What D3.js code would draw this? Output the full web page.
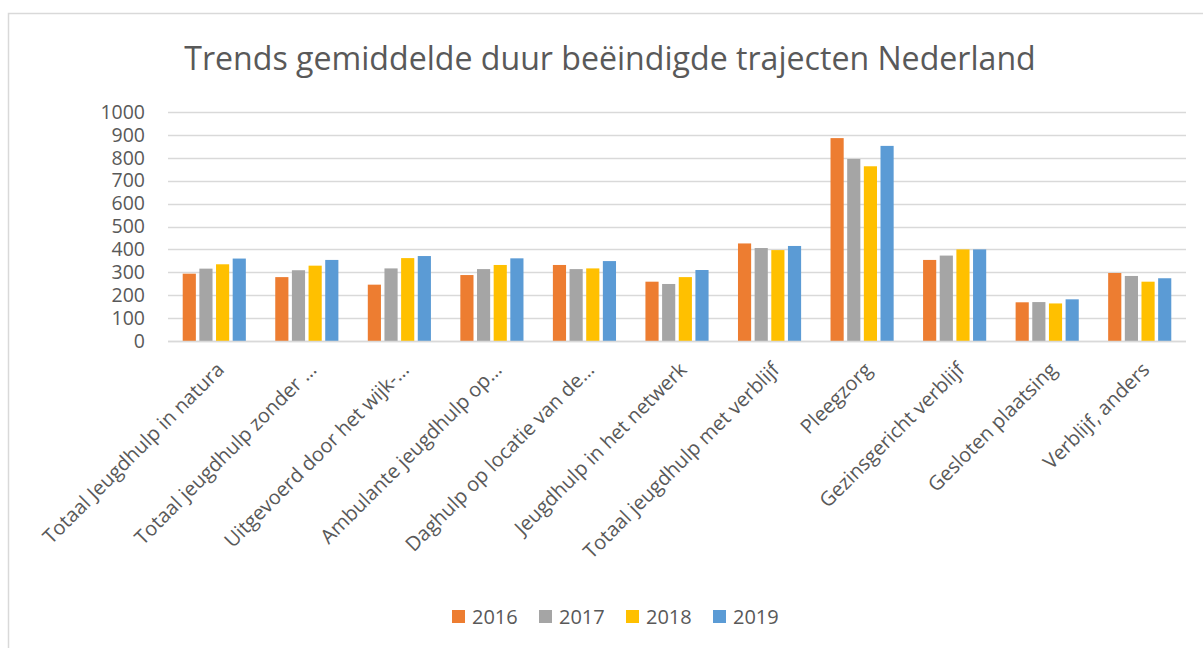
<!DOCTYPE html>
<html>
<head>
<meta charset="utf-8">
<script src="https://cdn.jsdelivr.net/npm/d3@7"></script>
<style>
  html, body { margin: 0; padding: 0; background: #fff; }
  svg { display: block; }
  text { font-family: "Open Sans", "DejaVu Sans", sans-serif; fill: #595959; }
</style>
</head>
<body>
<svg id="chart" width="1203" height="648"></svg>
<script>
// Categories (x axis)
const categories = [
  "Totaal Jeugdhulp in natura",
  "Totaal jeugdhulp zonder …",
  "Uitgevoerd door het wijk-…",
  "Ambulante jeugdhulp op…",
  "Daghulp op locatie van de…",
  "Jeugdhulp in het netwerk",
  "Totaal jeugdhulp met verblijf",
  "Pleegzorg",
  "Gezinsgericht verblijf",
  "Gesloten plaatsing",
  "Verblijf, anders"
];

// Series: average duration (days) of completed trajectories per year
const years = ["2016", "2017", "2018", "2019"];
const v2016 = [294, 279, 246, 288, 332, 259, 426, 886, 354, 169, 297];
const v2017 = [316, 309, 317, 314, 314, 249, 406, 795, 373, 170, 284];
const v2018 = [335, 329, 362, 332, 317, 279, 397, 763, 400, 164, 259];
const v2019 = [360, 354, 371, 361, 349, 310, 415, 852, 400, 182, 274];
const seriesValues = [v2016, v2017, v2018, v2019];
const colors = ["#ED7D31", "#A5A5A5", "#FFC000", "#5B9BD5"];

const yTicks = [0, 100, 200, 300, 400, 500, 600, 700, 800, 900, 1000];
const title = "Trends gemiddelde duur beëindigde trajecten Nederland";

const svg = d3.select("#chart");

// Chart area frame
svg.append("rect")
  .attr("x", 8.5).attr("y", 13.5)
  .attr("width", 1400).attr("height", 800)
  .attr("fill", "#fff").attr("stroke", "#d9d9d9").attr("stroke-width", 1.5);

const plot = { left: 168, right: 1186, top: 112, bottom: 341 };

const x0 = d3.scaleBand()
  .domain(categories)
  .range([plot.left, plot.right])
  .paddingInner(0.28)
  .paddingOuter(0.14);

const x1 = d3.scaleBand()
  .domain(years)
  .range([0, x0.bandwidth()]);

const y = d3.scaleLinear().domain([0, 1000]).range([plot.bottom, plot.top]);

// Gridlines
svg.append("g")
  .selectAll("line")
  .data(yTicks)
  .join("line")
  .attr("x1", plot.left).attr("x2", plot.right)
  .attr("y1", d => Math.round(y(d)) + 0.5).attr("y2", d => Math.round(y(d)) + 0.5)
  .attr("stroke", "#d9d9d9").attr("stroke-width", 1.5);

// Y axis labels
const yAxis = d3.axisLeft(y).tickValues(yTicks).tickFormat(d3.format("d")).tickSize(0).tickPadding(0);
const gy = svg.append("g")
  .attr("transform", `translate(${plot.left - 23},0)`)
  .call(yAxis);
gy.select(".domain").remove();
gy.selectAll("text")
  .attr("font-size", 19.5)
  .attr("fill", "#595959")
  .style("font-family", '"Open Sans", sans-serif');

// Bars
const rows = categories.map((c, i) => ({ cat: c, vals: years.map((yr, k) => ({ yr, k, v: seriesValues[k][i] })) }));
const gap = 3.5;
svg.append("g")
  .selectAll("g")
  .data(rows)
  .join("g")
  .attr("transform", d => `translate(${x0(d.cat)},0)`)
  .selectAll("rect")
  .data(d => d.vals)
  .join("rect")
  .attr("x", d => x1(d.yr) + gap / 2)
  .attr("width", x1.bandwidth() - gap)
  .attr("y", d => y(d.v))
  .attr("height", d => y(0) - y(d.v))
  .attr("fill", d => colors[d.k]);

// Zero baseline over the bars
svg.append("line")
  .attr("x1", plot.left).attr("x2", plot.right)
  .attr("y1", Math.round(y(0)) + 0.5).attr("y2", Math.round(y(0)) + 0.5)
  .attr("stroke", "#d9d9d9").attr("stroke-width", 1.5);

// Category labels, rotated
const xAxis = d3.axisBottom(x0).tickSize(0).tickPadding(0);
const gx = svg.append("g")
  .attr("transform", `translate(0,${plot.bottom})`)
  .call(xAxis);
gx.select(".domain").remove();
gx.selectAll(".tick text")
  .attr("font-size", 20)
  .attr("fill", "#595959")
  .style("font-family", '"Open Sans", sans-serif')
  .attr("text-anchor", "end")
  .attr("dy", 0)
  .attr("y", 0)
  .attr("transform", "translate(11,30) rotate(-45)");

// Title, fitted to its width
const t = svg.append("text")
  .attr("x", 610).attr("y", 70)
  .attr("text-anchor", "middle")
  .attr("font-size", 32)
  .text(title);
const w = t.node().getComputedTextLength();
t.attr("font-size", 32 * 852 / w);

// Legend
const legend = svg.append("g");
years.forEach((yr, k) => {
  const lx = 452 + k * 87;
  legend.append("rect")
    .attr("x", lx).attr("y", 610)
    .attr("width", 13).attr("height", 13)
    .attr("fill", colors[k]);
  legend.append("text")
    .attr("x", lx + 20).attr("y", 624)
    .attr("font-size", 20)
    .text(yr);
});
</script>
</body>
</html>
